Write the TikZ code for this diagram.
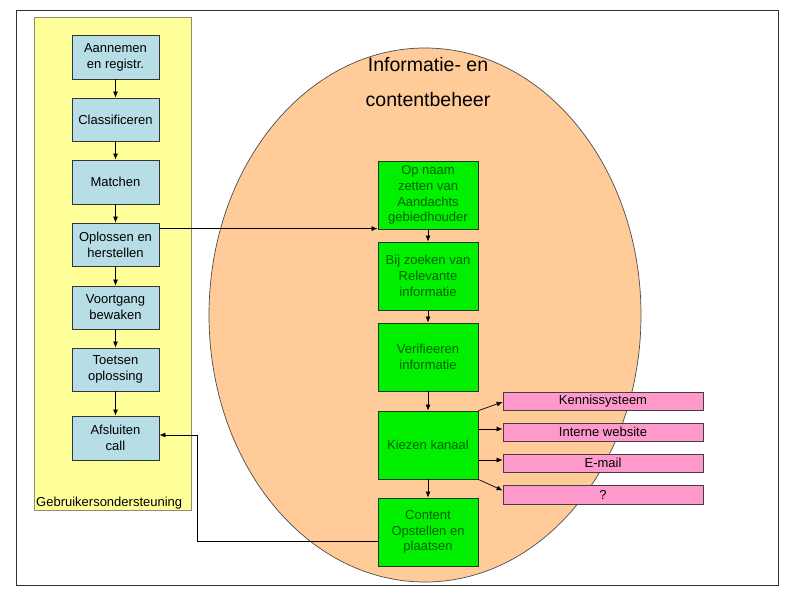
\documentclass[tikz,border=0pt]{standalone}
\usepackage{fontspec}
\setmainfont{Liberation Sans}
\usetikzlibrary{arrows.meta,calc}
\definecolor{yel}{HTML}{FFFF99}
\definecolor{yelb}{HTML}{8C8C6E}
\definecolor{blu}{HTML}{B7DDE6}
\definecolor{peach}{HTML}{FFCC99}
\definecolor{grn}{HTML}{00F000}
\definecolor{grntxt}{HTML}{006000}
\definecolor{grnb}{HTML}{1E3A1E}
\definecolor{pnk}{HTML}{FF99CC}
\definecolor{frame}{HTML}{303030}
\tikzset{
  bluebox/.style={draw=black!80, fill=blu, line width=0.8pt, minimum width=87pt, minimum height=44pt, inner sep=0pt, align=center, font=\fontsize{13}{16}\selectfont},
  greenbox/.style={draw=grnb, fill=grn, line width=0.8pt, minimum width=100pt, minimum height=68pt, inner sep=0pt, align=center, text=grntxt, font=\fontsize{13}{15.7}\selectfont},
  pinkbox/.style={draw=black!75, fill=pnk, line width=0.8pt, minimum width=200pt, minimum height=18pt, inner sep=0pt, align=center, font=\fontsize{13}{15}\selectfont},
  arr/.style={-{Latex[length=6pt,width=5pt]}, line width=0.7pt, black},
  titletext/.style={anchor=base, font=\fontsize{19.5}{22}\selectfont, inner sep=0pt},
}
\begin{document}
\begin{tikzpicture}[x=1pt,y=-1pt]
\useasboundingbox (0,0) rectangle (794,596);
\fill[white] (0,0) rectangle (794,596);
% outer frame
\draw[frame, line width=0.9pt] (16,10) rectangle (778,585);
% yellow lane
\draw[yelb, fill=yel, line width=0.8pt] (34,17) rectangle (191,510);
\node[anchor=base west, inner sep=0pt, font=\fontsize{13}{15}\selectfont] (lane) at (36,506) {Gebruikersondersteuning};
% ellipse
\draw[fill=peach, draw=black!70, line width=0.7pt] (425,315) ellipse [x radius=216, y radius=267];
\node[titletext] (t1) at (428,72) {Informatie- en};
\node[titletext] (t2) at (428,107) {contentbeheer};
% blue boxes
\node[bluebox] (b1) at (115.5,57) {Aannemen\\en registr.};
\node[bluebox, minimum height=43pt] (b2) at (115.5,119.5) {Classificeren};
\node[bluebox] (b3) at (115.5,182) {Matchen};
\node[bluebox, minimum height=43pt] (b4) at (115.5,244.5) {Oplossen en\\herstellen};
\node[bluebox, minimum height=43pt] (b5) at (115.5,307.5) {Voortgang\\bewaken};
\node[bluebox, minimum height=43pt] (b6) at (115.5,369.5) {Toetsen\\oplossing};
\node[bluebox] (b7) at (115.5,438) {Afsluiten\\call};
\foreach \a/\b in {b1/b2,b2/b3,b3/b4,b4/b5,b5/b6,b6/b7}{\draw[arr] (\a.south) -- (\b.north);}
% green boxes
\node[greenbox] (g1) at (428,195) {Op naam\\zetten van\\Aandachts\\gebiedhouder};
\node[greenbox] (g2) at (428,276) {Bij zoeken van\\Relevante\\informatie};
\node[greenbox] (g3) at (428,357) {Verifieeren\\informatie};
\node[greenbox] (g4) at (428,445) {Kiezen kanaal};
\node[greenbox] (g5) at (428,532) {Content\\Opstellen en\\plaatsen};
\foreach \a/\b in {g1/g2,g2/g3,g3/g4,g4/g5}{\draw[arr] (\a.south) -- (\b.north);}
% pink boxes
\node[pinkbox] (p1) at (603,401) {Kennissysteem};
\node[pinkbox] (p2) at (603,432) {Interne website};
\node[pinkbox] (p3) at (603,463) {E-mail};
\node[pinkbox, minimum height=19pt] (p4) at (603,494.5) {?};
\draw[arr] (g4.north east) -- ([yshift=-1pt]p1.west);
\draw[arr] ([yshift=16pt]g4.east) -- ([yshift=16pt]g4.east -| p2.west);
\draw[arr] ([yshift=-15pt]g4.east) -- ([yshift=-15pt]g4.east -| p3.west);
\draw[arr] (g4.south east) -- ([yshift=4pt]p4.west);
% cross connectors
\draw[arr] ([yshift=-6pt]b4.north east) -- ([yshift=-6pt]b4.north east -| g1.west);
\coordinate (rc) at (197,541);
\draw[arr] ([yshift=-9pt]g5.west) -- (rc) |- ([yshift=3pt]b7.east);
\end{tikzpicture}
\end{document}
